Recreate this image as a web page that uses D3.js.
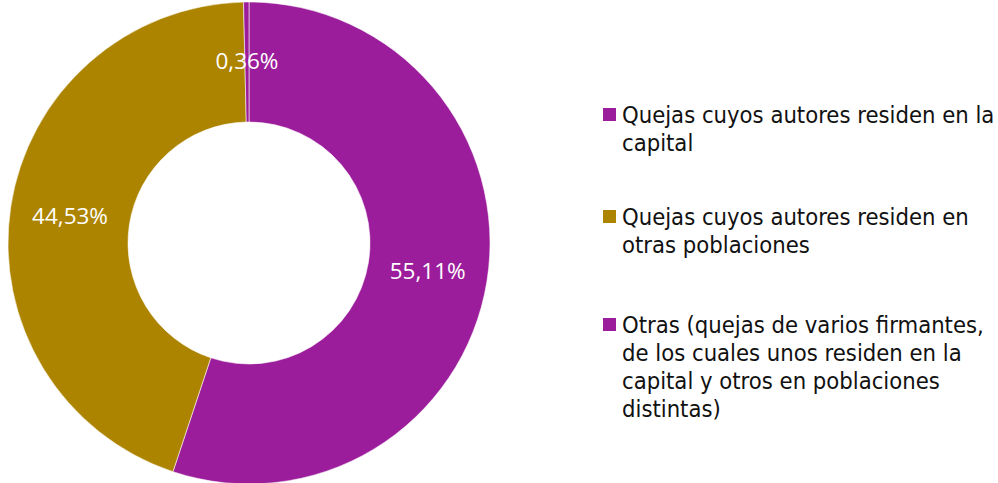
<!DOCTYPE html>
<html>
<head>
<meta charset="utf-8">
<script src="https://cdn.jsdelivr.net/npm/d3@7"></script>
<style>
    body { margin: 0; background: #fff; }
    svg { display: block; }
</style>
</head>
<body>
<div id="chart"></div>
<script>
// slice data, clockwise from 12 o'clock
var categories = [
    'Quejas cuyos autores residen en la capital',
    'Quejas cuyos autores residen en otras poblaciones',
    'Otras (quejas de varios firmantes, de los cuales unos residen en la capital y otros en poblaciones distintas)'
];
var values = [55.11, 44.53, 0.36];
var valueLabels = ['55,11%', '44,53%', '0,36%'];
var colors = ['#9b1d9b', '#ad8400', '#9b1d9b'];

// legend text, already broken into lines like the original
var legendLines = [
    ['Quejas cuyos autores residen en la', 'capital'],
    ['Quejas cuyos autores residen en', 'otras poblaciones'],
    ['Otras (quejas de varios firmantes,', 'de los cuales unos residen en la', 'capital y otros en poblaciones', 'distintas)']
];

var width = 998;
var height = 483;
var cx = 249;
var cy = 243;
var outerR = 241;
var innerR = 121;

var svg = d3.select('#chart')
    .append('svg')
    .attr('width', width)
    .attr('height', height);

var pie = d3.pie()
    .sort(null)
    .value(function (d) { return d; });

var arc = d3.arc()
    .innerRadius(innerR)
    .outerRadius(outerR);

var g = svg.append('g')
    .attr('transform', 'translate(' + cx + ',' + cy + ')');

var arcs = pie(values);

g.selectAll('path')
    .data(arcs)
    .enter()
    .append('path')
    .attr('d', arc)
    .attr('fill', function (d, i) { return colors[i]; })
    .attr('stroke', 'rgba(255,255,255,0.55)')
    .attr('stroke-width', 1);

// percentage labels at arc centroids
g.selectAll('text.val')
    .data(arcs)
    .enter()
    .append('text')
    .attr('class', 'val')
    .attr('transform', function (d) {
        return 'translate(' + arc.centroid(d) + ')';
    })
    .attr('text-anchor', 'middle')
    .attr('dy', '0.33em')
    .attr('fill', '#fff')
    .style('font-family', '"Open Sans", sans-serif')
    .style('font-size', '22.5px')
    .text(function (d, i) { return valueLabels[i]; });

// legend
var legendX = 603;
var itemTops = [123, 225, 333];
var lineH = 28;

var legend = svg.append('g');
legendLines.forEach(function (lines, i) {
    var y = itemTops[i];
    legend.append('rect')
        .attr('x', legendX)
        .attr('y', y - 15)
        .attr('width', 13)
        .attr('height', 13)
        .attr('fill', colors[i]);

    var t = legend.append('text')
        .attr('x', legendX + 19)
        .attr('y', y)
        .attr('fill', '#111')
        .style('font-family', '"DejaVu Sans Condensed", "DejaVu Sans", sans-serif')
        .style('font-size', '23.6px');

    lines.forEach(function (line, j) {
        t.append('tspan')
            .attr('x', legendX + 19)
            .attr('y', y + j * lineH)
            .text(line);
    });
});
</script>
</body>
</html>
